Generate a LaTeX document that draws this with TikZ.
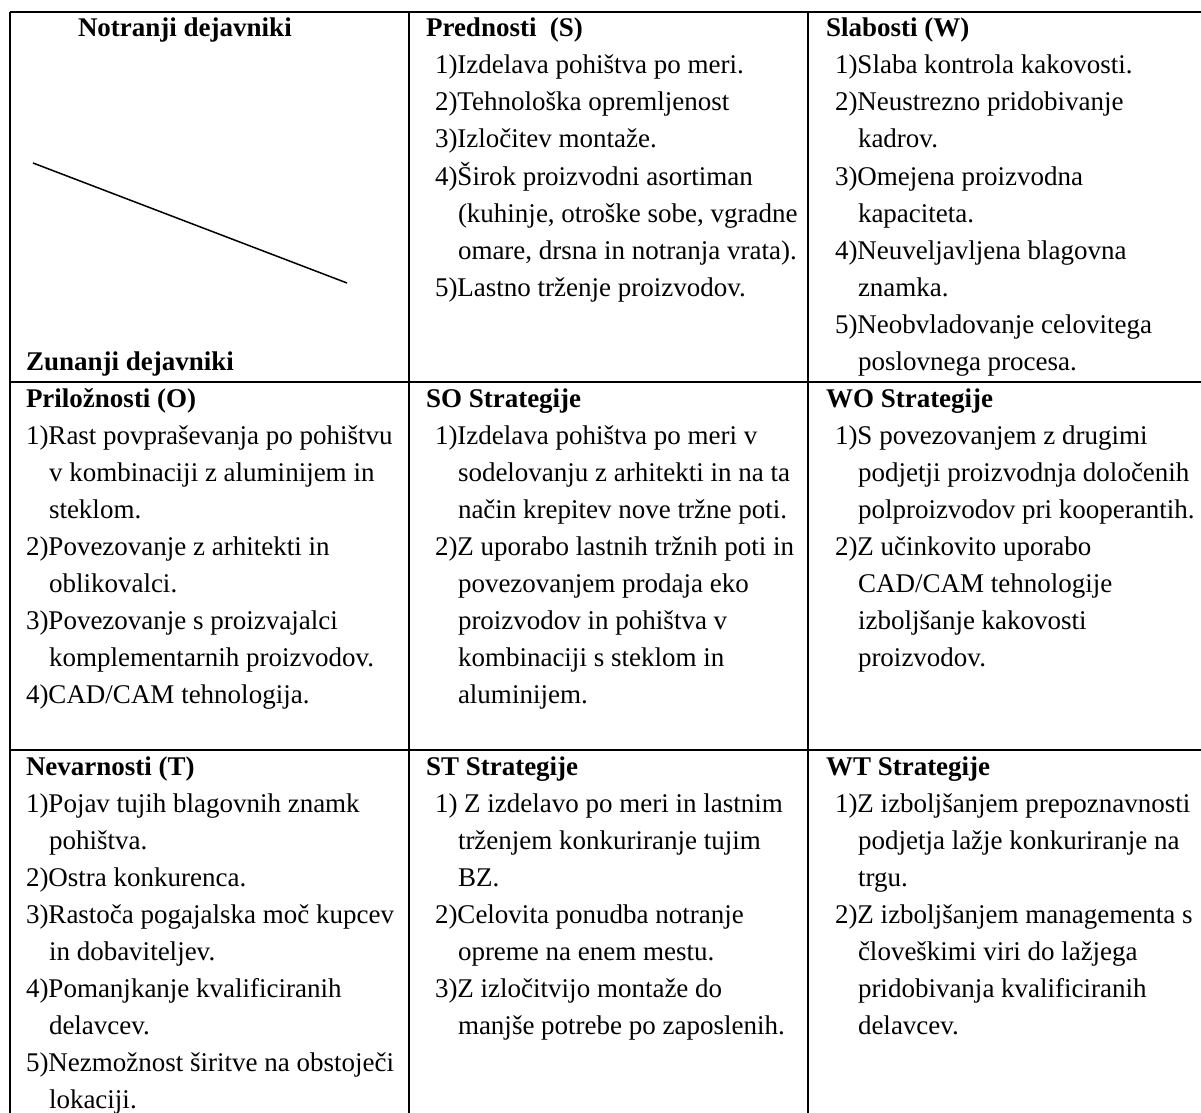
\documentclass[tikz,border=0pt]{standalone}
\usepackage{fontspec}
\setmainfont{Liberation Serif}
\begin{document}
\begin{tikzpicture}[x=0.5pt,y=-0.5pt,
  grid/.style={line width=1pt, black},
  txt/.style={anchor=base west, inner sep=0pt, outer sep=0pt, font=\fontsize{13.5}{15}\selectfont},
  ttl/.style={txt, font=\fontsize{13.5}{15}\selectfont\bfseries}]
\useasboundingbox (0,0) rectangle (1201,1113);
% table rules
\draw[grid] (10,12) -- (1201,12);
\draw[grid] (10,382) -- (1201,382);
\draw[grid] (10,750) -- (1201,750);
\draw[grid] (10,12) -- (10,1113);
\draw[grid] (409,12) -- (409,1113);
\draw[grid] (808,12) -- (808,1113);
% diagonal
\coordinate (d1) at (33,163);
\coordinate (d2) at (347,283);
\draw[line width=0.75pt] (d1) -- (d2);
% row 1, col 1
\node[ttl] (nd) at (78,37) {Notranji dejavniki};
\node[ttl] (zd) at (26,{37+9*37}) {Zunanji dejavniki};
% row 1, col 2
\node[ttl] (s0) at (426,37) {Prednosti\ \ (S)};
\foreach \k/\xx/\t in {1/435/{1)Izdelava pohištva po meri.},
  2/435/{2)Tehnološka opremljenost},
  3/435/{3)Izločitev montaže.},
  4/435/{4)Širok proizvodni asortiman},
  5/458/{(kuhinje, otroške sobe, vgradne},
  6/458/{omare, drsna in notranja vrata).},
  7/435/{5)Lastno trženje proizvodov.}}
  \node[txt] (s\k) at (\xx,{37+\k*37}) {\t};
% row 1, col 3
\node[ttl] (w0) at (826,37) {Slabosti (W)};
\foreach \k/\xx/\t in {1/835/{1)Slaba kontrola kakovosti.},
  2/835/{2)Neustrezno pridobivanje},
  3/858/{kadrov.},
  4/835/{3)Omejena proizvodna},
  5/858/{kapaciteta.},
  6/835/{4)Neuveljavljena blagovna},
  7/858/{znamka.},
  8/835/{5)Neobvladovanje celovitega},
  9/858/{poslovnega procesa.}}
  \node[txt] (w\k) at (\xx,{37+\k*37}) {\t};
% row 2, col 1
\node[ttl] (o0) at (26,407) {Priložnosti (O)};
\foreach \k/\xx/\t in {1/26/{1)Rast povpraševanja po pohištvu},
  2/49/{v kombinaciji z aluminijem in},
  3/49/{steklom.},
  4/26/{2)Povezovanje z arhitekti in},
  5/49/{oblikovalci.},
  6/26/{3)Povezovanje s proizvajalci},
  7/49/{komplementarnih proizvodov.},
  8/26/{4)CAD/CAM tehnologija.}}
  \node[txt] (o\k) at (\xx,{407+\k*37}) {\t};
% row 2, col 2
\node[ttl] (so0) at (426,407) {SO Strategije};
\foreach \k/\xx/\t in {1/435/{1)Izdelava pohištva po meri v},
  2/458/{sodelovanju z arhitekti in na ta},
  3/458/{način krepitev nove tržne poti.},
  4/435/{2)Z uporabo lastnih tržnih poti in},
  5/458/{povezovanjem prodaja eko},
  6/458/{proizvodov in pohištva v},
  7/458/{kombinaciji s steklom in},
  8/458/{aluminijem.}}
  \node[txt] (so\k) at (\xx,{407+\k*37}) {\t};
% row 2, col 3
\node[ttl] (wo0) at (826,407) {WO Strategije};
\foreach \k/\xx/\t in {1/835/{1)S povezovanjem z drugimi},
  2/858/{podjetji proizvodnja določenih},
  3/858/{polproizvodov pri kooperantih.},
  4/835/{2)Z učinkovito uporabo},
  5/858/{CAD/CAM tehnologije},
  6/858/{izboljšanje kakovosti},
  7/858/{proizvodov.}}
  \node[txt] (wo\k) at (\xx,{407+\k*37}) {\t};
% row 3, col 1
\node[ttl] (t0) at (26,775) {Nevarnosti (T)};
\foreach \k/\xx/\t in {1/26/{1)Pojav tujih blagovnih znamk},
  2/49/{pohištva.},
  3/26/{2)Ostra konkurenca.},
  4/26/{3)Rastoča pogajalska moč kupcev},
  5/49/{in dobaviteljev.},
  6/26/{4)Pomanjkanje kvalificiranih},
  7/49/{delavcev.},
  8/26/{5)Nezmožnost širitve na obstoječi},
  9/49/{lokaciji.}}
  \node[txt] (t\k) at (\xx,{775+\k*37}) {\t};
% row 3, col 2
\node[ttl] (st0) at (426,775) {ST Strategije};
\foreach \k/\xx/\t in {1/435/{1)\ Z izdelavo po meri in lastnim},
  2/458/{trženjem konkuriranje tujim},
  3/458/{BZ.},
  4/435/{2)Celovita ponudba notranje},
  5/458/{opreme na enem mestu.},
  6/435/{3)Z izločitvijo montaže do},
  7/458/{manjše potrebe po zaposlenih.}}
  \node[txt] (st\k) at (\xx,{775+\k*37}) {\t};
% row 3, col 3
\node[ttl] (wt0) at (826,775) {WT Strategije};
\foreach \k/\xx/\t in {1/835/{1)Z izboljšanjem prepoznavnosti},
  2/858/{podjetja lažje konkuriranje na},
  3/858/{trgu.},
  4/835/{2)Z izboljšanjem managementa s},
  5/858/{človeškimi viri do lažjega},
  6/858/{pridobivanja kvalificiranih},
  7/858/{delavcev.}}
  \node[txt] (wt\k) at (\xx,{775+\k*37}) {\t};
\end{tikzpicture}
\end{document}
